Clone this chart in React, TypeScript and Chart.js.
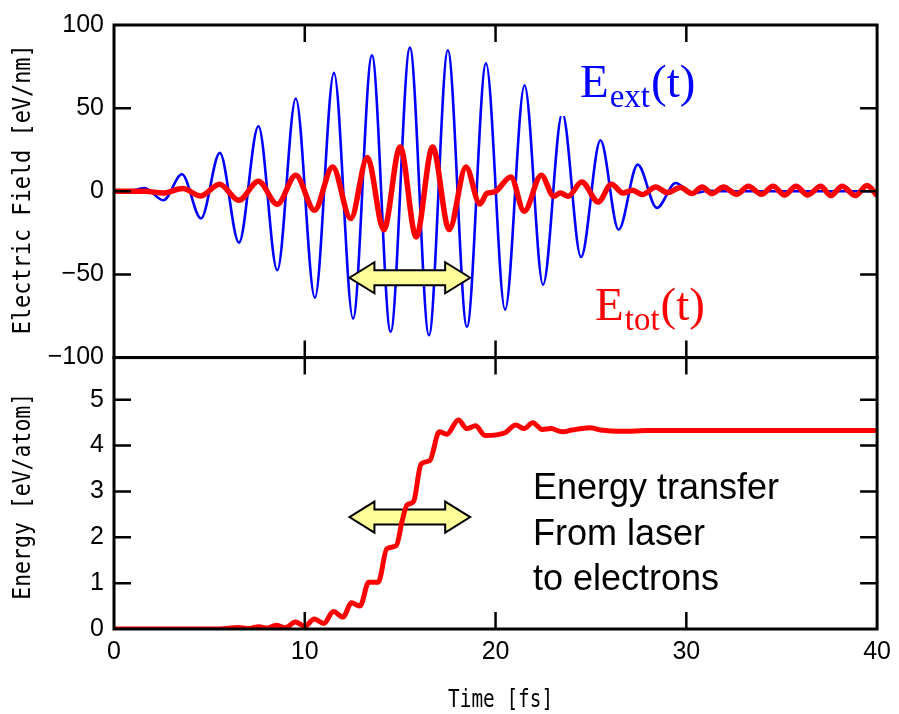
import React, { useEffect, useRef } from 'react';
import { Chart, registerables } from 'chart.js';

Chart.register(...registerables);

// ---- data ----
const timeTicks = [0, 10, 20, 30, 40];
const fieldTicks = [-100, -50, 0, 50, 100];
const energyTicks = [0, 1, 2, 3, 4, 5];

const xTitle = 'Time [fs]';
const fieldTitle = 'Electric Field [eV/nm]';
const energyTitle = 'Energy [eV/atom]';

// E_ext(t): extrema of the blue laser field
const extTimes = [0, 0.6, 1.6, 2.59, 3.56, 4.56, 5.55, 6.55, 7.57, 8.56, 9.53, 10.53, 11.53, 12.53, 13.52, 14.5, 15.51, 16.51, 17.5, 18.5, 19.5, 20.5, 21.52, 22.49, 23.5, 24.48, 25.5, 26.45, 27.45, 28.46, 29.44, 30.35, 31.2, 32, 40];
const extValues = [0, -0.4, 2.0, -5.4, 10.2, -16.4, 23.1, -30.9, 39.1, -47.5, 55.8, -64.0, 71.2, -76.6, 81.8, -84.6, 86.4, -86.6, 84.8, -81.6, 77.0, -71.2, 63.8, -56.2, 47, -39.5, 30.7, -23.1, 16.0, -10.0, 5.0, -1.3, 0.3, 0, 0];

// E_tot(t): red total field
const totTimes = [0, 1.6, 2.56, 3.6, 4.55, 5.53, 6.54, 7.57, 8.56, 9.53, 10.51, 11.46, 12.41, 13.28, 14.14, 15.0, 15.84, 16.7, 17.57, 18.45, 19.18, 19.55, 19.95, 20.8, 21.5, 22.4, 23.05, 23.4, 23.8, 24.52, 25.38, 26.07, 26.68, 27.19, 27.7, 28.4, 29.0, 29.7, 30.3, 30.83, 31.34, 31.95, 32.64, 33.25, 33.94, 34.54, 35.15, 35.75, 36.36, 37.05, 37.57, 38.17, 38.86, 39.47, 40];
const totValues = [0, 0, -1, 1.6, -2.8, 4.2, -5.4, 6.0, -7.8, 9.6, -11.4, 14.6, -16.4, 20.3, -23.1, 26.7, -27.5, 26.7, -23.0, 14.6, -7.6, -1.2, -0.4, 8.6, -12.0, 9.6, -3.0, -1.0, -3.0, 5.6, -6.4, 4.2, -1.0, 0.6, -2.0, 2.6, -0.8, 2.2, -1.4, 2.6, -1.4, 2.6, -1.8, 3.0, -1.8, 3.0, -2.2, 3.0, -2.2, 3.0, -2.6, 3.0, -2.6, 3.4, -2.6];

// Energy absorbed [eV/atom]
const energyTimes = [0, 5.5, 6.5, 7.0, 7.6, 8.0, 8.5, 9.0, 9.5, 10.0, 10.5, 11.0, 11.5, 12.0, 12.45, 12.9, 13.35, 13.85, 14.3, 14.8, 15.1, 15.35, 15.7, 16.1, 16.55, 17.05, 17.45, 18.05, 18.5, 18.95, 19.45, 20.5, 21.05, 21.5, 21.95, 22.45, 22.9, 23.5, 24.0, 24.95, 25.5, 26.7, 28, 40];
const energyValues = [0, 0, 0.03, 0.01, 0.05, 0.02, 0.08, 0.03, 0.15, 0.06, 0.22, 0.12, 0.38, 0.26, 0.57, 0.5, 1.02, 1.02, 1.75, 1.82, 2.35, 2.7, 2.78, 3.6, 3.67, 4.3, 4.25, 4.56, 4.37, 4.43, 4.22, 4.28, 4.45, 4.37, 4.5, 4.35, 4.37, 4.3, 4.34, 4.39, 4.34, 4.31, 4.33, 4.33];

// annotation arrows (time span, level)
const arrowTimes = [12.34, 18.67];
const fieldArrowLevel = -52;
const energyArrowLevel = 2.44;

const energyTextLines = ['Energy transfer', 'From laser', 'to electrons'];

const tickFamily = '"Liberation Sans", Arial, sans-serif';
const monoFamily = '"DejaVu Sans Mono", "Liberation Mono", monospace';

function drawArrow(ctx: CanvasRenderingContext2D, x1: number, x2: number, yc: number) {
  const hl = 25, hh = 15.5, sh = 7.5;
  ctx.save();
  ctx.beginPath();
  ctx.moveTo(x1, yc);
  ctx.lineTo(x1 + hl, yc - hh);
  ctx.lineTo(x1 + hl, yc - sh);
  ctx.lineTo(x2 - hl, yc - sh);
  ctx.lineTo(x2 - hl, yc - hh);
  ctx.lineTo(x2, yc);
  ctx.lineTo(x2 - hl, yc + hh);
  ctx.lineTo(x2 - hl, yc + sh);
  ctx.lineTo(x1 + hl, yc + sh);
  ctx.lineTo(x1 + hl, yc + hh);
  ctx.closePath();
  ctx.fillStyle = '#ffff99';
  ctx.fill();
  ctx.lineWidth = 2;
  ctx.lineJoin = 'miter';
  ctx.strokeStyle = '#000';
  ctx.stroke();
  ctx.restore();
}

function drawSubLabel(ctx: CanvasRenderingContext2D, x: number, base: number, sub: string, color: string) {
  ctx.save();
  ctx.fillStyle = color;
  ctx.textBaseline = 'alphabetic';
  ctx.textAlign = 'left';
  const big = '47px "Liberation Serif", "Times New Roman", serif';
  const small = '33px "Liberation Serif", "Times New Roman", serif';
  ctx.font = big;
  ctx.fillText('E', x, base);
  let cx = x + ctx.measureText('E').width + 1;
  ctx.font = small;
  ctx.fillText(sub, cx, base + 10);
  cx += ctx.measureText(sub).width + 1;
  ctx.font = big;
  ctx.fillText('(t)', cx, base);
  ctx.restore();
}

// condensed monospace axis title (the reference uses a narrow gothic face)
function drawTitle(ctx: CanvasRenderingContext2D, text: string, cx: number, cy: number, size: number, targetWidth: number, vertical: boolean) {
  ctx.save();
  ctx.font = `${size}px ${monoFamily}`;
  ctx.fillStyle = '#000';
  ctx.textAlign = 'center';
  ctx.textBaseline = 'middle';
  const w = ctx.measureText(text).width;
  ctx.translate(cx, cy);
  if (vertical) ctx.rotate(-Math.PI / 2);
  ctx.scale(targetWidth / w, 1);
  ctx.fillText(text, 0, 0);
  ctx.restore();
}

const annotPlugin = {
  id: 'annot',
  beforeDatasetsDraw(chart: any) {
    const { ctx, scales } = chart;
    const x = scales.x, yN = scales.yN;
    drawArrow(ctx, x.getPixelForValue(arrowTimes[0]), x.getPixelForValue(arrowTimes[1]), yN.getPixelForValue(energyArrowLevel));
  },
  afterDatasetsDraw(chart: any) {
    const { ctx, scales } = chart;
    const x = scales.x, yE = scales.yE, yN = scales.yN;
    const L = x.left, R = x.right;
    const tl = 17;
    ctx.save();
    ctx.strokeStyle = '#000';
    for (const ys of [yE, yN]) {
      ctx.lineWidth = 3;
      ctx.strokeRect(L, ys.top, R - L, ys.bottom - ys.top);
      ctx.lineWidth = 2.5;
      ctx.beginPath();
      for (const t of ys.ticks) {
        const py = ys.getPixelForValue(t.value);
        if (py <= ys.top + 2 || py >= ys.bottom - 2) continue;
        ctx.moveTo(L, py); ctx.lineTo(L + tl, py);
        ctx.moveTo(R, py); ctx.lineTo(R - tl, py);
      }
      for (const t of x.ticks) {
        const px = x.getPixelForValue(t.value);
        if (px <= L + 2 || px >= R - 2) continue;
        ctx.moveTo(px, ys.top); ctx.lineTo(px, ys.top + tl);
        ctx.moveTo(px, ys.bottom); ctx.lineTo(px, ys.bottom - tl);
      }
      ctx.stroke();
    }
    ctx.restore();

    drawArrow(ctx, x.getPixelForValue(arrowTimes[0]), x.getPixelForValue(arrowTimes[1]), yE.getPixelForValue(fieldArrowLevel));

    // E_ext label with white backing box (hides the peak tip under it)
    ctx.save();
    ctx.fillStyle = '#fff';
    ctx.fillRect(560, 45, 140, 71);
    ctx.restore();
    drawSubLabel(ctx, 580, 97, 'ext', '#0000ff');
    drawSubLabel(ctx, 595, 320, 'tot', '#ff0000');

    ctx.save();
    ctx.fillStyle = '#000';
    ctx.font = '36px "Liberation Sans", Arial, sans-serif';
    ctx.textBaseline = 'alphabetic';
    ctx.textAlign = 'left';
    energyTextLines.forEach((line, i) => ctx.fillText(line, 533, 499 + i * 45.5));
    ctx.restore();

    // axis titles
    drawTitle(ctx, fieldTitle, 23, (yE.top + yE.bottom) / 2 - 2, 25, 290, true);
    drawTitle(ctx, energyTitle, 23, (yN.top + yN.bottom) / 2 + 3, 25, 207, true);
    drawTitle(ctx, xTitle, (L + R) / 2 + 5, 701, 24, 105, false);
  },
};

const minusFmt = (v: any) => String(v).replace('-', '\u2212');

export default function App() {
  const ref = useRef<HTMLCanvasElement>(null);
  useEffect(() => {
    const tickFont = { family: tickFamily, size: 25 };
    const chart = new Chart(ref.current!, {
      type: 'line',
      data: {
        datasets: [
          {
            label: 'Etot',
            data: totTimes.map((t, i) => ({ x: t, y: totValues[i] })),
            yAxisID: 'yE',
            borderColor: '#ff0000',
            borderWidth: 5.5,
            cubicInterpolationMode: 'monotone',
            pointRadius: 0,
            order: 0,
          },
          {
            label: 'Eext',
            data: extTimes.map((t, i) => ({ x: t, y: extValues[i] })),
            yAxisID: 'yE',
            borderColor: '#0000ff',
            borderWidth: 2.6,
            cubicInterpolationMode: 'monotone',
            pointRadius: 0,
            order: 1,
          },
          {
            label: 'Energy',
            data: energyTimes.map((t, i) => ({ x: t, y: energyValues[i] })),
            yAxisID: 'yN',
            borderColor: '#ff0000',
            borderWidth: 5,
            cubicInterpolationMode: 'monotone',
            pointRadius: 0,
            order: 2,
          },
        ],
      },
      options: {
        animation: false,
        responsive: false,
        devicePixelRatio: 1,
        layout: { padding: { top: 25, right: 13, left: 0, bottom: 0 } },
        plugins: { legend: { display: false }, tooltip: { enabled: false } },
        scales: {
          x: {
            type: 'linear',
            position: 'bottom',
            min: 0,
            max: 40,
            afterBuildTicks: (s: any) => { s.ticks = timeTicks.map((v) => ({ value: v })); },
            afterFit: (s: any) => { s.height = 85; },
            grid: { display: false, drawTicks: false },
            border: { display: false },
            ticks: { padding: 8, font: tickFont, color: '#000', maxRotation: 0, autoSkip: false },
            title: { display: false, text: xTitle },
          },
          yN: {
            type: 'linear',
            position: 'left',
            stack: 'panels',
            stackWeight: 271,
            min: 0,
            max: 5.92,
            afterBuildTicks: (s: any) => { s.ticks = energyTicks.map((v) => ({ value: v })); },
            afterFit: (s: any) => { s.width = 114; },
            grid: { display: false, drawTicks: false },
            border: { display: false },
            ticks: { padding: 10, font: tickFont, color: '#000', callback: minusFmt, autoSkip: false },
            title: { display: false, text: energyTitle },
          },
          yE: {
            type: 'linear',
            position: 'left',
            stack: 'panels',
            stackWeight: 332,
            min: -100,
            max: 100,
            afterBuildTicks: (s: any) => { s.ticks = fieldTicks.map((v) => ({ value: v })); },
            afterFit: (s: any) => { s.width = 114; },
            grid: { display: false, drawTicks: false },
            border: { display: false },
            ticks: { padding: 10, font: tickFont, color: '#000', callback: minusFmt, autoSkip: false },
            title: { display: false, text: fieldTitle },
          },
        },
      } as any,
      plugins: [annotPlugin],
    } as any);
    return () => chart.destroy();
  }, []);
  return (
    <div style={{ position: 'absolute', left: 0, top: 0, width: 899, height: 714, background: '#fff' }}>
      <canvas ref={ref} width={899} height={714} style={{ display: 'block' }} />
    </div>
  );
}
